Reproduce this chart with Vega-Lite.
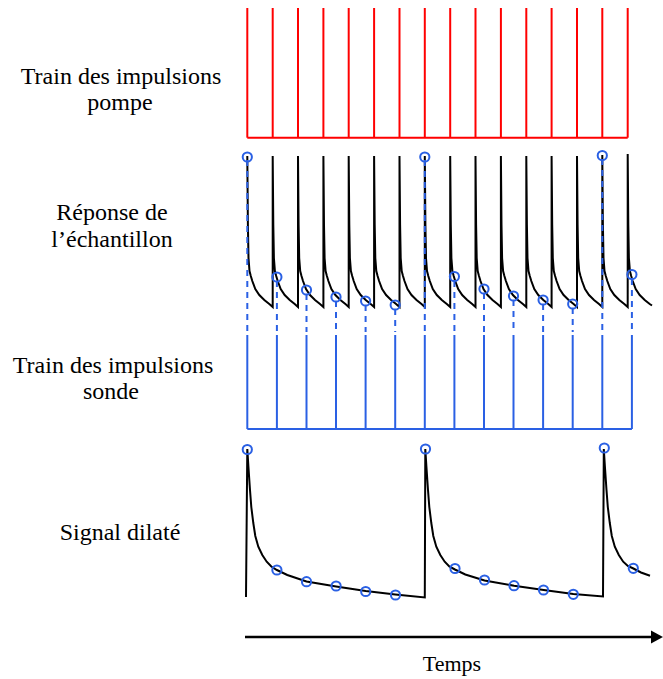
{
  "$schema": "https://vega.github.io/schema/vega-lite/v6.json",
  "width": 663,
  "height": 679,
  "padding": 0,
  "autosize": {"type": "fit", "contains": "padding"},
  "background": "white",
  "config": {"view": {"stroke": null}},
  "datasets": {
    "pump": [
      {"x": 247.3, "y": 8, "x2": 247.3, "y2": 137.7},
      {"x": 272.7, "y": 8, "x2": 272.7, "y2": 137.7},
      {"x": 298.0, "y": 8, "x2": 298.0, "y2": 137.7},
      {"x": 323.4, "y": 8, "x2": 323.4, "y2": 137.7},
      {"x": 348.7, "y": 8, "x2": 348.7, "y2": 137.7},
      {"x": 374.1, "y": 8, "x2": 374.1, "y2": 137.7},
      {"x": 399.5, "y": 8, "x2": 399.5, "y2": 137.7},
      {"x": 424.8, "y": 8, "x2": 424.8, "y2": 137.7},
      {"x": 450.2, "y": 8, "x2": 450.2, "y2": 137.7},
      {"x": 475.5, "y": 8, "x2": 475.5, "y2": 137.7},
      {"x": 500.9, "y": 8, "x2": 500.9, "y2": 137.7},
      {"x": 526.3, "y": 8, "x2": 526.3, "y2": 137.7},
      {"x": 551.6, "y": 8, "x2": 551.6, "y2": 137.7},
      {"x": 577.0, "y": 8, "x2": 577.0, "y2": 137.7},
      {"x": 602.3, "y": 8, "x2": 602.3, "y2": 137.7},
      {"x": 627.7, "y": 8, "x2": 627.7, "y2": 137.7},
      {"x": 247.3, "y": 137.7, "x2": 627.7, "y2": 137.7}
    ],
    "probe": [
      {"x": 247.3, "y": 335, "x2": 247.3, "y2": 429},
      {"x": 276.9, "y": 335, "x2": 276.9, "y2": 429},
      {"x": 306.5, "y": 335, "x2": 306.5, "y2": 429},
      {"x": 336.0, "y": 335, "x2": 336.0, "y2": 429},
      {"x": 365.6, "y": 335, "x2": 365.6, "y2": 429},
      {"x": 395.2, "y": 335, "x2": 395.2, "y2": 429},
      {"x": 424.8, "y": 335, "x2": 424.8, "y2": 429},
      {"x": 454.4, "y": 335, "x2": 454.4, "y2": 429},
      {"x": 484.0, "y": 335, "x2": 484.0, "y2": 429},
      {"x": 513.5, "y": 335, "x2": 513.5, "y2": 429},
      {"x": 543.1, "y": 335, "x2": 543.1, "y2": 429},
      {"x": 572.7, "y": 335, "x2": 572.7, "y2": 429},
      {"x": 602.3, "y": 335, "x2": 602.3, "y2": 429},
      {"x": 631.9, "y": 335, "x2": 631.9, "y2": 429},
      {"x": 247.3, "y": 429, "x2": 631.9, "y2": 429}
    ],
    "dash": [
      {"x": 247.3, "y": 160, "x2": 247.3, "y2": 332},
      {"x": 276.9, "y": 281, "x2": 276.9, "y2": 332},
      {"x": 306.5, "y": 294, "x2": 306.5, "y2": 332},
      {"x": 336.0, "y": 301, "x2": 336.0, "y2": 332},
      {"x": 365.6, "y": 305, "x2": 365.6, "y2": 332},
      {"x": 395.2, "y": 309, "x2": 395.2, "y2": 332},
      {"x": 424.8, "y": 160, "x2": 424.8, "y2": 332},
      {"x": 454.4, "y": 281, "x2": 454.4, "y2": 332},
      {"x": 484.0, "y": 293, "x2": 484.0, "y2": 332},
      {"x": 513.5, "y": 300, "x2": 513.5, "y2": 332},
      {"x": 543.1, "y": 304, "x2": 543.1, "y2": 332},
      {"x": 572.7, "y": 308, "x2": 572.7, "y2": 332},
      {"x": 602.3, "y": 159, "x2": 602.3, "y2": 332},
      {"x": 631.9, "y": 279, "x2": 631.9, "y2": 332}
    ],
    "resp": [
      {"o": 0, "x": 247.3, "y": 156}, {"o": 1, "x": 247.9, "y": 225}, {"o": 2, "x": 248.5, "y": 258}, {"o": 3, "x": 249.5, "y": 271}, {"o": 4, "x": 250.8, "y": 276}, {"o": 5, "x": 252.3, "y": 281}, {"o": 6, "x": 255.3, "y": 289}, {"o": 7, "x": 259.3, "y": 295}, {"o": 8, "x": 264.3, "y": 300}, {"o": 9, "x": 269.3, "y": 304}, {"o": 10, "x": 272.7, "y": 307},
      {"o": 11, "x": 272.7, "y": 156}, {"o": 12, "x": 273.3, "y": 225}, {"o": 13, "x": 273.9, "y": 258}, {"o": 14, "x": 274.9, "y": 271}, {"o": 15, "x": 276.2, "y": 276}, {"o": 16, "x": 277.7, "y": 281}, {"o": 17, "x": 280.7, "y": 289}, {"o": 18, "x": 284.7, "y": 295}, {"o": 19, "x": 289.7, "y": 300}, {"o": 20, "x": 294.7, "y": 304}, {"o": 21, "x": 298.0, "y": 307},
      {"o": 22, "x": 298.0, "y": 156}, {"o": 23, "x": 298.6, "y": 225}, {"o": 24, "x": 299.2, "y": 258}, {"o": 25, "x": 300.2, "y": 271}, {"o": 26, "x": 301.5, "y": 276}, {"o": 27, "x": 303.0, "y": 281}, {"o": 28, "x": 306.0, "y": 289}, {"o": 29, "x": 310.0, "y": 295}, {"o": 30, "x": 315.0, "y": 300}, {"o": 31, "x": 320.0, "y": 304}, {"o": 32, "x": 323.4, "y": 307},
      {"o": 33, "x": 323.4, "y": 156}, {"o": 34, "x": 324.0, "y": 225}, {"o": 35, "x": 324.6, "y": 258}, {"o": 36, "x": 325.6, "y": 271}, {"o": 37, "x": 326.9, "y": 276}, {"o": 38, "x": 328.4, "y": 281}, {"o": 39, "x": 331.4, "y": 289}, {"o": 40, "x": 335.4, "y": 295}, {"o": 41, "x": 340.4, "y": 300}, {"o": 42, "x": 345.4, "y": 304}, {"o": 43, "x": 348.7, "y": 307},
      {"o": 44, "x": 348.7, "y": 156}, {"o": 45, "x": 349.3, "y": 225}, {"o": 46, "x": 349.9, "y": 258}, {"o": 47, "x": 350.9, "y": 271}, {"o": 48, "x": 352.2, "y": 276}, {"o": 49, "x": 353.7, "y": 281}, {"o": 50, "x": 356.7, "y": 289}, {"o": 51, "x": 360.7, "y": 295}, {"o": 52, "x": 365.7, "y": 300}, {"o": 53, "x": 370.7, "y": 304}, {"o": 54, "x": 374.1, "y": 307},
      {"o": 55, "x": 374.1, "y": 156}, {"o": 56, "x": 374.7, "y": 225}, {"o": 57, "x": 375.3, "y": 258}, {"o": 58, "x": 376.3, "y": 271}, {"o": 59, "x": 377.6, "y": 276}, {"o": 60, "x": 379.1, "y": 281}, {"o": 61, "x": 382.1, "y": 289}, {"o": 62, "x": 386.1, "y": 295}, {"o": 63, "x": 391.1, "y": 300}, {"o": 64, "x": 396.1, "y": 304}, {"o": 65, "x": 399.5, "y": 307},
      {"o": 66, "x": 399.5, "y": 156}, {"o": 67, "x": 400.1, "y": 225}, {"o": 68, "x": 400.7, "y": 258}, {"o": 69, "x": 401.7, "y": 271}, {"o": 70, "x": 403.0, "y": 276}, {"o": 71, "x": 404.5, "y": 281}, {"o": 72, "x": 407.5, "y": 289}, {"o": 73, "x": 411.5, "y": 295}, {"o": 74, "x": 416.5, "y": 300}, {"o": 75, "x": 421.5, "y": 304}, {"o": 76, "x": 424.8, "y": 307},
      {"o": 77, "x": 424.8, "y": 156}, {"o": 78, "x": 425.4, "y": 225}, {"o": 79, "x": 426.0, "y": 258}, {"o": 80, "x": 427.0, "y": 271}, {"o": 81, "x": 428.3, "y": 276}, {"o": 82, "x": 429.8, "y": 281}, {"o": 83, "x": 432.8, "y": 289}, {"o": 84, "x": 436.8, "y": 295}, {"o": 85, "x": 441.8, "y": 300}, {"o": 86, "x": 446.8, "y": 304}, {"o": 87, "x": 450.2, "y": 307},
      {"o": 88, "x": 450.2, "y": 156}, {"o": 89, "x": 450.8, "y": 225}, {"o": 90, "x": 451.4, "y": 258}, {"o": 91, "x": 452.4, "y": 271}, {"o": 92, "x": 453.7, "y": 276}, {"o": 93, "x": 455.2, "y": 281}, {"o": 94, "x": 458.2, "y": 289}, {"o": 95, "x": 462.2, "y": 295}, {"o": 96, "x": 467.2, "y": 300}, {"o": 97, "x": 472.2, "y": 304}, {"o": 98, "x": 475.5, "y": 307},
      {"o": 99, "x": 475.5, "y": 156}, {"o": 100, "x": 476.1, "y": 225}, {"o": 101, "x": 476.7, "y": 258}, {"o": 102, "x": 477.7, "y": 271}, {"o": 103, "x": 479.0, "y": 276}, {"o": 104, "x": 480.5, "y": 281}, {"o": 105, "x": 483.5, "y": 289}, {"o": 106, "x": 487.5, "y": 295}, {"o": 107, "x": 492.5, "y": 300}, {"o": 108, "x": 497.5, "y": 304}, {"o": 109, "x": 500.9, "y": 307},
      {"o": 110, "x": 500.9, "y": 156}, {"o": 111, "x": 501.5, "y": 225}, {"o": 112, "x": 502.1, "y": 258}, {"o": 113, "x": 503.1, "y": 271}, {"o": 114, "x": 504.4, "y": 276}, {"o": 115, "x": 505.9, "y": 281}, {"o": 116, "x": 508.9, "y": 289}, {"o": 117, "x": 512.9, "y": 295}, {"o": 118, "x": 517.9, "y": 300}, {"o": 119, "x": 522.9, "y": 304}, {"o": 120, "x": 526.3, "y": 307},
      {"o": 121, "x": 526.3, "y": 156}, {"o": 122, "x": 526.9, "y": 225}, {"o": 123, "x": 527.5, "y": 258}, {"o": 124, "x": 528.5, "y": 271}, {"o": 125, "x": 529.8, "y": 276}, {"o": 126, "x": 531.3, "y": 281}, {"o": 127, "x": 534.3, "y": 289}, {"o": 128, "x": 538.3, "y": 295}, {"o": 129, "x": 543.3, "y": 300}, {"o": 130, "x": 548.3, "y": 304}, {"o": 131, "x": 551.6, "y": 307},
      {"o": 132, "x": 551.6, "y": 156}, {"o": 133, "x": 552.2, "y": 225}, {"o": 134, "x": 552.8, "y": 258}, {"o": 135, "x": 553.8, "y": 271}, {"o": 136, "x": 555.1, "y": 276}, {"o": 137, "x": 556.6, "y": 281}, {"o": 138, "x": 559.6, "y": 289}, {"o": 139, "x": 563.6, "y": 295}, {"o": 140, "x": 568.6, "y": 300}, {"o": 141, "x": 573.6, "y": 304}, {"o": 142, "x": 577.0, "y": 307},
      {"o": 143, "x": 577.0, "y": 156}, {"o": 144, "x": 577.6, "y": 225}, {"o": 145, "x": 578.2, "y": 258}, {"o": 146, "x": 579.2, "y": 271}, {"o": 147, "x": 580.5, "y": 276}, {"o": 148, "x": 582.0, "y": 281}, {"o": 149, "x": 585.0, "y": 289}, {"o": 150, "x": 589.0, "y": 295}, {"o": 151, "x": 594.0, "y": 300}, {"o": 152, "x": 599.0, "y": 304}, {"o": 153, "x": 602.3, "y": 307},
      {"o": 154, "x": 602.3, "y": 155}, {"o": 155, "x": 602.9, "y": 225}, {"o": 156, "x": 603.5, "y": 258}, {"o": 157, "x": 604.5, "y": 271}, {"o": 158, "x": 605.8, "y": 276}, {"o": 159, "x": 607.3, "y": 281}, {"o": 160, "x": 610.3, "y": 289}, {"o": 161, "x": 614.3, "y": 295}, {"o": 162, "x": 619.3, "y": 300}, {"o": 163, "x": 624.3, "y": 304}, {"o": 164, "x": 627.7, "y": 307},
      {"o": 165, "x": 627.7, "y": 154}, {"o": 166, "x": 628.3, "y": 225}, {"o": 167, "x": 628.9, "y": 258}, {"o": 168, "x": 629.9, "y": 271}, {"o": 169, "x": 631.2, "y": 276}, {"o": 170, "x": 632.7, "y": 281}, {"o": 171, "x": 635.7, "y": 289}, {"o": 172, "x": 639.7, "y": 295}, {"o": 173, "x": 644.7, "y": 300}, {"o": 174, "x": 649.7, "y": 304}, {"o": 175, "x": 652.0, "y": 305.5}
    ],
    "sig": [
      {"o": 0, "x": 246.0, "y": 597},
      {"o": 1, "x": 247.3, "y": 449}, {"o": 2, "x": 248.3, "y": 465}, {"o": 3, "x": 250.0, "y": 490}, {"o": 4, "x": 251.3, "y": 507}, {"o": 5, "x": 253.3, "y": 523}, {"o": 6, "x": 255.3, "y": 536}, {"o": 7, "x": 258.3, "y": 546.7}, {"o": 8, "x": 262.3, "y": 555}, {"o": 9, "x": 266.7, "y": 561.7}, {"o": 10, "x": 271.3, "y": 566.5}, {"o": 11, "x": 276.9, "y": 570}, {"o": 12, "x": 287.3, "y": 575}, {"o": 13, "x": 306.5, "y": 581.5}, {"o": 14, "x": 336.1, "y": 586.5}, {"o": 15, "x": 365.7, "y": 591}, {"o": 16, "x": 395.3, "y": 594.5}, {"o": 17, "x": 424.8, "y": 597.5},
      {"o": 18, "x": 425.3, "y": 449}, {"o": 19, "x": 426.3, "y": 465}, {"o": 20, "x": 428.0, "y": 490}, {"o": 21, "x": 429.3, "y": 507}, {"o": 22, "x": 431.3, "y": 523}, {"o": 23, "x": 433.3, "y": 536}, {"o": 24, "x": 436.3, "y": 546.7}, {"o": 25, "x": 440.3, "y": 555}, {"o": 26, "x": 444.7, "y": 561.7}, {"o": 27, "x": 449.3, "y": 566.5}, {"o": 28, "x": 454.9, "y": 569.5}, {"o": 29, "x": 465.3, "y": 574.5}, {"o": 30, "x": 484.5, "y": 580.5}, {"o": 31, "x": 514.1, "y": 585.7}, {"o": 32, "x": 543.7, "y": 590}, {"o": 33, "x": 573.3, "y": 594}, {"o": 34, "x": 603.0, "y": 596.5},
      {"o": 35, "x": 603.8, "y": 449}, {"o": 36, "x": 604.8, "y": 465}, {"o": 37, "x": 606.5, "y": 490}, {"o": 38, "x": 607.8, "y": 507}, {"o": 39, "x": 609.8, "y": 523}, {"o": 40, "x": 611.8, "y": 536}, {"o": 41, "x": 614.8, "y": 546.7}, {"o": 42, "x": 618.8, "y": 555}, {"o": 43, "x": 623.2, "y": 561.7}, {"o": 44, "x": 627.8, "y": 566}, {"o": 45, "x": 633.4, "y": 568.5}, {"o": 46, "x": 641.0, "y": 572.5}, {"o": 47, "x": 650.0, "y": 575.7}
    ],
    "circ": [
      {"x": 247.3, "y": 157}, {"x": 276.9, "y": 277}, {"x": 306.5, "y": 290}, {"x": 336.0, "y": 297}, {"x": 365.6, "y": 301}, {"x": 395.2, "y": 305},
      {"x": 424.8, "y": 157}, {"x": 454.4, "y": 276.5}, {"x": 484.0, "y": 289}, {"x": 513.5, "y": 296}, {"x": 543.1, "y": 300}, {"x": 572.7, "y": 304},
      {"x": 602.3, "y": 155.5}, {"x": 631.9, "y": 274.5},
      {"x": 247.3, "y": 449.5}, {"x": 276.9, "y": 570}, {"x": 306.5, "y": 581.7}, {"x": 336.1, "y": 586}, {"x": 365.7, "y": 591.5}, {"x": 395.5, "y": 595},
      {"x": 425.5, "y": 449}, {"x": 455.0, "y": 568.5}, {"x": 484.5, "y": 580}, {"x": 514.0, "y": 585.7}, {"x": 543.5, "y": 590}, {"x": 573.3, "y": 594.3},
      {"x": 604.3, "y": 448}, {"x": 633.3, "y": 568.3}
    ],
    "arrow": [{"x": 245, "y": 637, "x2": 656, "y2": 637}],
    "tip": [{"x": 663, "y": 637}],
    "labels": [
      {"x": 121, "y": 84, "t": "Train des impulsions"},
      {"x": 120, "y": 110, "t": "pompe"},
      {"x": 112, "y": 220, "t": "Réponse de"},
      {"x": 112, "y": 247, "t": "l’échantillon"},
      {"x": 113, "y": 373, "t": "Train des impulsions"},
      {"x": 111, "y": 399, "t": "sonde"},
      {"x": 120, "y": 540, "t": "Signal dilaté"}
    ],
    "temps": [{"x": 452, "y": 671, "t": "Temps"}]
  },
  "encoding": {
    "x": {"field": "x", "type": "quantitative", "scale": {"domain": [0, 663], "nice": false, "zero": false}, "axis": null},
    "y": {"field": "y", "type": "quantitative", "scale": {"domain": [0, 679], "nice": false, "zero": false, "reverse": true}, "axis": null}
  },
  "layer": [
    {
      "data": {"name": "pump"},
      "mark": {"type": "rule", "color": "#ff0000", "strokeWidth": 2},
      "encoding": {"x2": {"field": "x2"}, "y2": {"field": "y2"}}
    },
    {
      "data": {"name": "probe"},
      "mark": {"type": "rule", "color": "#2a60e4", "strokeWidth": 2},
      "encoding": {"x2": {"field": "x2"}, "y2": {"field": "y2"}}
    },
    {
      "data": {"name": "resp"},
      "mark": {"type": "line", "color": "#000000", "strokeWidth": 2},
      "encoding": {"order": {"field": "o", "type": "quantitative"}}
    },
    {
      "data": {"name": "dash"},
      "mark": {"type": "rule", "color": "#2a60e4", "strokeWidth": 2, "strokeDash": [6, 5]},
      "encoding": {"x2": {"field": "x2"}, "y2": {"field": "y2"}}
    },
    {
      "data": {"name": "sig"},
      "mark": {"type": "line", "color": "#000000", "strokeWidth": 2},
      "encoding": {"order": {"field": "o", "type": "quantitative"}}
    },
    {
      "data": {"name": "circ"},
      "mark": {"type": "point", "shape": "circle", "filled": false, "color": "#2a60e4", "strokeWidth": 2, "size": 85, "opacity": 1}
    },
    {
      "data": {"name": "arrow"},
      "mark": {"type": "rule", "color": "#000000", "strokeWidth": 2.5},
      "encoding": {"x2": {"field": "x2"}, "y2": {"field": "y2"}}
    },
    {
      "data": {"name": "tip"},
      "mark": {"type": "point", "shape": "M -2 -1.1 L 0 0 L -2 1.1 Z", "filled": true, "color": "#000000", "size": 144, "opacity": 1}
    },
    {
      "data": {"name": "labels"},
      "mark": {"type": "text", "font": "Liberation Serif", "fontSize": 24, "color": "#000000", "align": "center", "baseline": "alphabetic"},
      "encoding": {"text": {"field": "t", "type": "nominal"}}
    },
    {
      "data": {"name": "temps"},
      "mark": {"type": "text", "font": "Liberation Serif", "fontSize": 22, "color": "#000000", "align": "center", "baseline": "alphabetic"},
      "encoding": {"text": {"field": "t", "type": "nominal"}}
    }
  ]
}
